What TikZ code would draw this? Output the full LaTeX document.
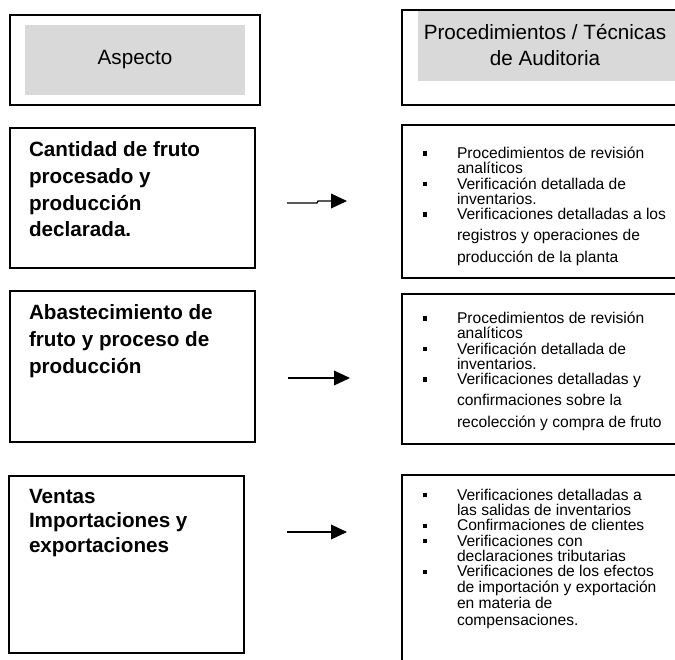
\documentclass[tikz,border=0pt]{standalone}
\usepackage{fontspec}
\setmainfont{Liberation Sans}
\usetikzlibrary{positioning,arrows.meta}

\newcommand{\bul}{\makebox[26.25pt][l]{\hspace*{0.5pt}\raisebox{2.2pt}{\rule{3.3pt}{3.3pt}}}}
\newcommand{\ind}{\hspace*{26.25pt}}

\begin{document}
\begin{tikzpicture}[x=0.75pt, y=-0.75pt,
            every node/.style={inner sep=0pt, outer sep=0pt}
        ]
        \tikzstyle {frame_box} = [draw=black, line width=1.3pt, anchor=north west]
        \tikzstyle {gray_box} = [fill=black!15, anchor=north west]
        \tikzstyle {head_text} = [font=\fontsize{15.5}{19.5}\selectfont, align=center]
        \tikzstyle {aspect_text} = [font=\bfseries\fontsize{15.5}{20}\selectfont, align=left, anchor=north west]
        \tikzstyle {list_text} = [font=\fontsize{11.7}{11.5}\selectfont, align=left, anchor=north west]
        \tikzstyle {arrow_line} = [line width=1pt, -{Triangle[length=12pt,width=11pt]}]

        \useasboundingbox (0,0) rectangle (675,660);
        \clip (0,0) rectangle (675,660);

        % headers
        \node [frame_box, minimum width=187.5pt, minimum height=67.5pt] (asp) at (10,15) {};
        \node [gray_box, minimum width=165pt, minimum height=52.5pt] (asp_fill) at (25,25) {};
        \node [head_text] (asp_txt) at (135,60) {Aspecto};
        \node [frame_box, minimum width=225pt, minimum height=71.25pt] (proc) at (402,10) {};
        \node [gray_box, minimum width=210pt, minimum height=52.5pt] (proc_fill) at (418,11) {};
        \node [head_text] (proc_txt) at (545,45) {Procedimientos / Técnicas\\de Auditoria};

        % row 1
        \node [frame_box, minimum width=183.75pt, minimum height=105pt] (cant) at (10,128) {};
        \node [aspect_text] (cant_txt) at (29,142) {Cantidad de fruto\\procesado y\\producción\\declarada.};
        \node [frame_box, minimum width=225pt, minimum height=114.75pt] (cant_p) at (402,125) {};
        \node [list_text] (cant_p_txt) at (422,147) {\bul Procedimientos de revisión\\
            \ind analíticos\\
            \bul Verificación detallada de\\
            \ind inventarios.\\
            \bul Verificaciones detalladas a los\\[4pt]
            \ind registros y operaciones de\\[5pt]
            \ind producción de la planta};

        % row 2
        \node [frame_box, minimum width=183.75pt, minimum height=113.25pt] (abas) at (10,291) {};
        \node [aspect_text] (abas_txt) at (29,305) {Abastecimiento de\\fruto y proceso de\\producción};
        \node [frame_box, minimum width=225pt, minimum height=112.5pt] (abas_p) at (402,294) {};
        \node [list_text] (abas_p_txt) at (422,312) {\bul Procedimientos de revisión\\
            \ind analíticos\\
            \bul Verificación detallada de\\
            \ind inventarios.\\
            \bul Verificaciones detalladas y\\[4pt]
            \ind confirmaciones sobre la\\[5pt]
            \ind recolección y compra de fruto};

        % row 3
        \node [frame_box, minimum width=176.25pt, minimum height=132.75pt] (vent) at (9,476) {};
        \node [aspect_text, font=\bfseries\fontsize{15.5}{18.5}\selectfont] (vent_txt) at (29,489) {Ventas\\Importaciones y\\exportaciones};
        \node [frame_box, minimum width=225pt, minimum height=150pt] (vent_p) at (402,475) {};
        \node [list_text] (vent_p_txt) at (422,489) {\bul Verificaciones detalladas a\\
            \ind las salidas de inventarios\\
            \bul Confirmaciones de clientes\\
            \bul Verificaciones con\\
            \ind declaraciones tributarias\\
            \bul Verificaciones de los efectos\\
            \ind de importación y exportación\\[1pt]
            \ind en materia de\\[1pt]
            \ind compensaciones.};

        % arrows
        \coordinate (a1_start) at (287,203);
        \coordinate (a1_kink) at (317,203);
        \coordinate (a1_jog) at (318,201);
        \coordinate (a1_end) at (347,201);
        \coordinate (a2_start) at (288,378);
        \coordinate (a2_end) at (350,378);
        \coordinate (a3_start) at (287,532);
        \coordinate (a3_end) at (347,532);

        \draw [arrow_line] (a1_start) -- (a1_kink) -- (a1_jog) -- (a1_end);
        \draw [arrow_line] (a2_start) -- (a2_end);
        \draw [arrow_line] (a3_start) -- (a3_end);

        \end{tikzpicture}
\end{document}
